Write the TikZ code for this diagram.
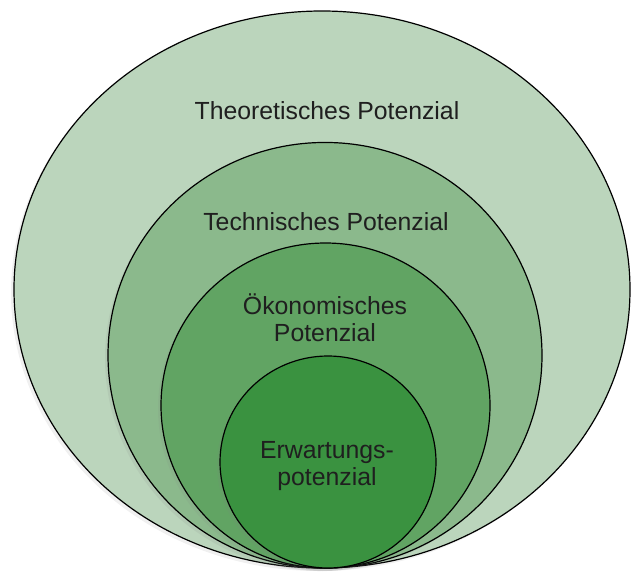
\documentclass[tikz,border=0pt]{standalone}
\usepackage{fontspec}
\setmainfont{Liberation Sans}
\usepackage{tikz}
\usetikzlibrary{shadows}
\usepackage{xcolor}
\definecolor{pot-theo}{RGB}{187,213,188}
\definecolor{pot-tech}{RGB}{139,185,140}
\definecolor{pot-oeko}{RGB}{97,164,99}
\definecolor{pot-erw}{RGB}{58,146,64}
\tikzstyle{layer}=[draw=black, line width=0.6pt, drop shadow={opacity=0.12, shadow xshift=-1.5pt, shadow yshift=-1.5pt}]
\tikzstyle{potlabel}=[text=black!88, align=center, inner sep=0pt, font=\fontsize{12.4}{13.6}\selectfont]
% one nested layer: fill, centre, x radius, y radius
\newcommand{\potLayer}[4]{
	\path[layer, fill=#1] #2 ellipse [x radius=#3, y radius=#4];
}

\begin{document}
\begin{tikzpicture}[x=0.5pt,y=-0.5pt]
	\useasboundingbox (0,0) rectangle (631,573);
	\potLayer{pot-theo}{(322,289.5)}{154pt}{139.25pt}
	\potLayer{pot-tech}{(325,355.25)}{108.5pt}{106.4pt}
	\potLayer{pot-oeko}{(325.5,405.5)}{82.25pt}{81.25pt}
	\potLayer{pot-erw}{(328,462)}{54pt}{53pt}
	\node[potlabel, anchor=base] (theo) at (327,119) {Theoretisches Potenzial};
	\node[potlabel, anchor=base] (tech) at (326,230) {Technisches Potenzial};
	\node[potlabel] (oeko) at (325,318) {Ökonomisches\\Potenzial};
	\node[potlabel] (erw) at (327,466) {Erwartungs-\\potenzial};
\end{tikzpicture}
\end{document}
